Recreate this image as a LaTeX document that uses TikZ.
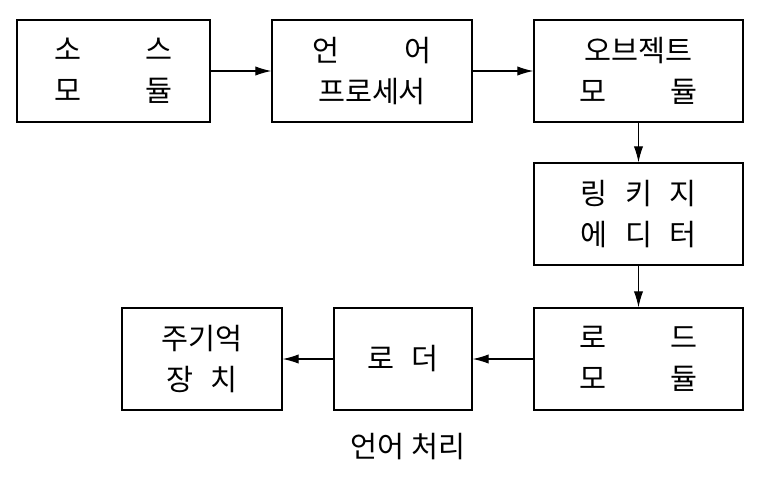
\documentclass[tikz,border=0pt]{standalone}
\usepackage{fontspec}
\setmainfont{Noto Sans CJK KR}
\usetikzlibrary{arrows.meta}
\tikzset{
    blok/.style={draw, line width=1.1pt, align=center, inner sep=0pt,
        font=\fontsize{22}{31}\selectfont},
    pijl/.style={draw, line width=0.8pt, -{Latex[length=12pt,width=7pt]}}
}
\begin{document}
\begin{tikzpicture}[x=0.75pt,y=-0.75pt]
    \useasboundingbox (0,0) rectangle (769,483);
    \node [blok, minimum width=193*0.75pt, minimum height=102*0.75pt] (bron) at (113.5,71) {소\hspace{2.2em}스\\모\hspace{2.2em}듈};
    \node [blok, minimum width=200*0.75pt, minimum height=102*0.75pt] (proc) at (372,71) {언\hspace{2.2em}어\\프로세서};
    \node [blok, minimum width=209*0.75pt, minimum height=102*0.75pt] (obj) at (638.5,71) {오브젝트\\모\hspace{2.2em}듈};
    \node [blok, minimum width=209*0.75pt, minimum height=102*0.75pt] (link) at (638.5,214) {링\hspace{0.6em}키\hspace{0.6em}지\\에\hspace{0.6em}디\hspace{0.6em}터};
    \node [blok, minimum width=209*0.75pt, minimum height=102*0.75pt] (load) at (638.5,359) {로\hspace{2.2em}드\\모\hspace{2.2em}듈};
    \node [blok, minimum width=138*0.75pt, minimum height=102*0.75pt] (lader) at (403,359) {로\hspace{0.6em}더};
    \node [blok, minimum width=160*0.75pt, minimum height=102*0.75pt] (geheugen) at (202,359) {주기억\\장\hspace{0.6em}치};
    \node [font=\fontsize{22}{26}\selectfont] (titel) at (408,447) {언어 처리};
    \draw [pijl] (bron) -- (proc);
    \draw [pijl] (proc) -- (obj);
    \draw [pijl] (obj) -- (link);
    \draw [pijl] (link) -- (load);
    \draw [pijl] (load) -- (lader);
    \draw [pijl] (lader) -- (geheugen);
\end{tikzpicture}
\end{document}
